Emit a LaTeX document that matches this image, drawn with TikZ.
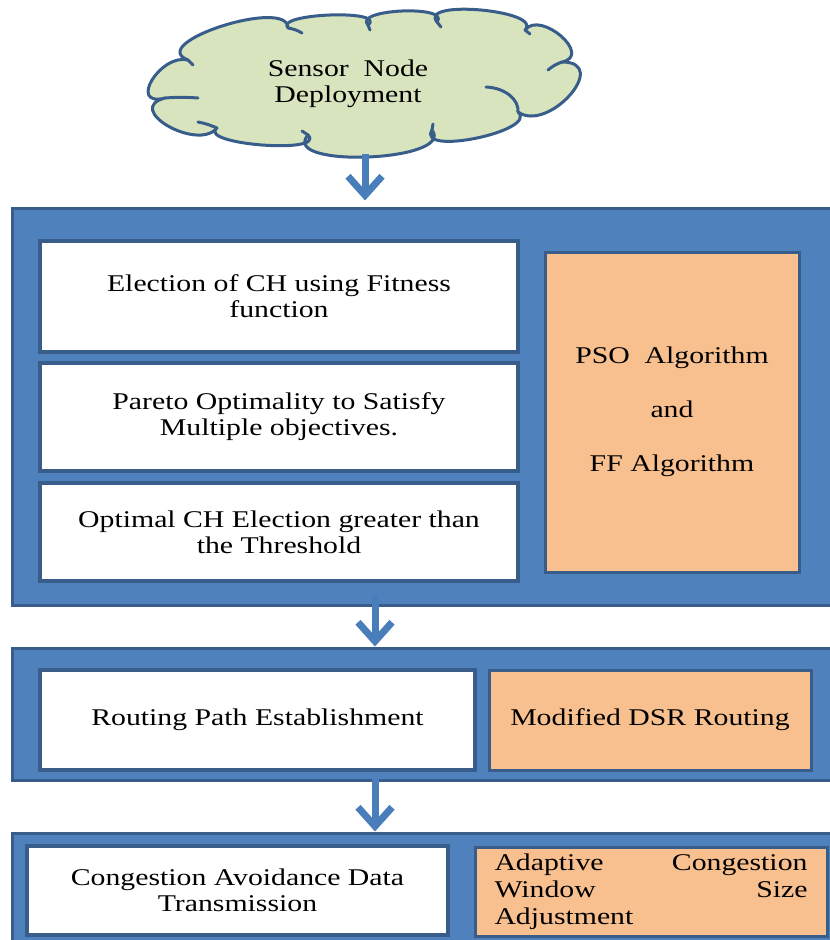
\documentclass[tikz,border=0pt]{standalone}
\usepackage{fontspec}
\setmainfont{Liberation Serif}
\newfontfamily\timesface{Liberation Serif}[FakeStretch=1.24]
\usetikzlibrary{calc,arrows.meta}
\definecolor{panelblue}{HTML}{4F81BD}
\definecolor{edgeblue}{HTML}{385D8A}
\definecolor{peach}{HTML}{F9C08F}
\definecolor{leaf}{HTML}{D7E4BD}
\definecolor{arrowblue}{HTML}{4A7EBB}
\tikzset{
  panel/.style={draw=edgeblue, fill=panelblue, line width=3pt, inner sep=0pt},
  stepbox/.style={draw=edgeblue, fill=white, line width=4pt, align=center,
    font=\timesface\fontsize{24}{26}\selectfont, inner sep=0pt},
  algbox/.style={stepbox, fill=peach, line width=3pt},
  flow/.style={arrowblue, line width=7pt,
    -{Straight Barb[length=19pt,width=34pt,line width=7pt]}},
  crease/.style={edgeblue, line width=3pt, line cap=round},
  % one cloud lobe from junction #1 to junction #2 bulging through #3
  lobe/.style n args={3}{insert path={
    .. controls ($0.55*(#1)+1.3333*(#3)-0.8833*(#2)$)
            and ($1.3333*(#3)+0.55*(#2)-0.8833*(#1)$) .. (#2)}},
}
\begin{document}
\begin{tikzpicture}[x=1pt,y=-1pt]
\useasboundingbox (0,0) rectangle (830,940);

% deployment cloud: junctions between lobes and the lobe crests
\coordinate (j1) at (165,98);   \coordinate (e1) at (168,126);
\coordinate (j2) at (217,128);  \coordinate (e2) at (262,145);
\coordinate (j3) at (308,135);  \coordinate (e3) at (368,157);
\coordinate (j4) at (432,130);  \coordinate (e4) at (477,138);
\coordinate (j5) at (518,112);  \coordinate (e5) at (570,95);
\coordinate (j6) at (562,62);   \coordinate (e6) at (561,36);
\coordinate (j7) at (525,30);   \coordinate (e7) at (481,10);
\coordinate (j8) at (437,22);   \coordinate (e8) at (402,11);
\coordinate (j9) at (368,25);   \coordinate (e9) at (330,15);
\coordinate (j10) at (288,28);  \coordinate (e10) at (222,26);
\coordinate (j11) at (188,60);  \coordinate (e11) at (152,80);
\draw[edgeblue, fill=leaf, line width=3pt, line join=round]
  (j1) [lobe={j1}{j2}{e1}] [lobe={j2}{j3}{e2}] [lobe={j3}{j4}{e3}]
       [lobe={j4}{j5}{e4}] [lobe={j5}{j6}{e5}] [lobe={j6}{j7}{e6}]
       [lobe={j7}{j8}{e7}] [lobe={j8}{j9}{e8}] [lobe={j9}{j10}{e9}]
       [lobe={j10}{j11}{e10}] [lobe={j11}{j1}{e11}] -- cycle;
% creases running into the cloud from the junctions
\draw[crease] (j1) to[bend left=4] (198,98);
\draw[crease] (j2) to[bend right=6] (198,122);
\draw[crease] (j3) -- (302,131);
\draw[crease] (j4) -- (433,124);
\draw[crease] (j5) .. controls (519,100) and (506,88) .. (486,87);
\draw[crease] (j6) to[bend right=10] (548,70);
\draw[crease] (j7) -- (530,34);
\draw[crease] (j8) -- (441,27);
\draw[crease] (j9) -- (370,30);
\draw[crease] (j10) to[bend left=10] (302,33);
\draw[crease] (j11) -- (193,65);
\node[font=\timesface\fontsize{24}{26}\selectfont, align=center] (deploy)
  at (348,84) {Sensor\ \ Node\\Deployment};
\coordinate (cloudbase) at (365,154);

% stage 1: cluster head election
\node[panel, minimum width=823pt, minimum height=397pt] (p1) at (423.5,406.5) {};
\node[stepbox, minimum width=478pt, minimum height=111pt] (b1) at (279,296.5)
  {Election of CH using Fitness\\function};
\node[stepbox, minimum width=478pt, minimum height=108pt] (b2) at (279,417)
  {Pareto Optimality to Satisfy\\Multiple objectives.};
\node[stepbox, minimum width=478pt, minimum height=98pt] (b3) at (279,532)
  {Optimal CH Election greater than\\the Threshold};
\node[algbox, minimum width=254pt, minimum height=320pt] (o1) at (672,412)
  {PSO\ \ Algorithm\\[28pt]and\\[28pt]FF Algorithm};

% stage 2: routing
\node[panel, minimum width=823pt, minimum height=132pt] (p2) at (423.5,714) {};
\node[stepbox, minimum width=435pt, minimum height=100pt] (b4) at (257.5,720)
  {Routing Path Establishment};
\node[algbox, minimum width=322pt, minimum height=100pt] (o2) at (650,720)
  {Modified DSR Routing};

% stage 3: data transmission
\node[panel, minimum width=823pt, minimum height=117pt] (p3) at (423.5,891.5) {};
\node[stepbox, minimum width=421pt, minimum height=89pt] (b5) at (237.5,890.5)
  {Congestion Avoidance Data\\Transmission};
\node[algbox, minimum width=352pt, minimum height=89pt, align=left,
      font=\timesface\fontsize{24}{27}\selectfont] (o3) at (651,892)
  {\hbox to 313pt{Adaptive\hfill Congestion}\\
   \hbox to 313pt{Window\hfill Size}\\
   \hbox to 313pt{Adjustment\hfill}};

% flow arrows
\coordinate (s2) at (375,594);
\coordinate (s3) at (375,779);
\draw[flow] (cloudbase) -- ([yshift=6pt]cloudbase |- p1.north);
\draw[flow] (s2) -- (s2 |- p2.north);
\draw[flow] (s3) -- (s3 |- p3.north);
\end{tikzpicture}
\end{document}
